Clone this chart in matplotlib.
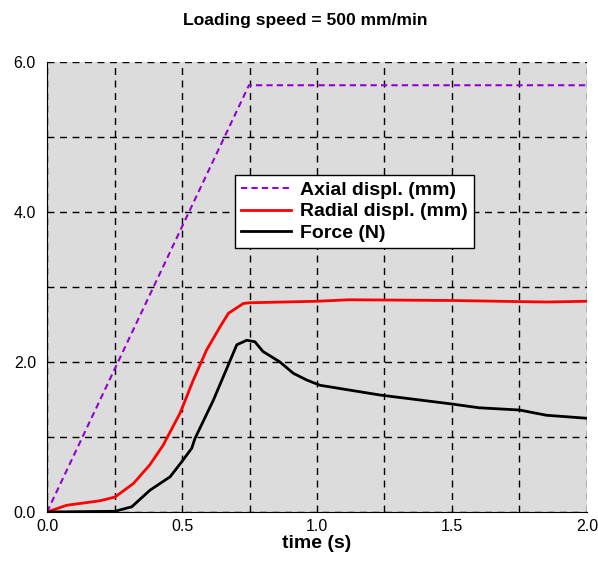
import numpy as np
import matplotlib.pyplot as plt

plt.rcParams['font.family'] = ['Liberation Sans', 'DejaVu Sans']

# axial displacement (mm)
t_axial = [0.0, 0.748, 2.0]
axial = [0.0, 5.69, 5.69]

# radial displacement (mm)
t_radial = [0.0, 0.073, 0.196, 0.252, 0.32, 0.381, 0.43, 0.493, 0.542, 0.591,
            0.641, 0.672, 0.727, 0.75, 1.0, 1.12, 1.5, 1.85, 2.0]
radial = [0.0, 0.09, 0.15, 0.20, 0.38, 0.63, 0.89, 1.32, 1.76, 2.16,
          2.47, 2.65, 2.78, 2.79, 2.81, 2.83, 2.82, 2.80, 2.81]

# force (N)
t_force = [0.0, 0.252, 0.314, 0.381, 0.456, 0.499, 0.536, 0.548, 0.616, 0.703,
           0.74, 0.77, 0.80, 0.863, 0.912, 0.962, 1.011, 1.233, 1.5, 1.6,
           1.75, 1.85, 2.0]
force = [0.0, 0.01, 0.07, 0.29, 0.47, 0.67, 0.85, 0.98, 1.49, 2.23,
         2.29, 2.27, 2.14, 2.0, 1.85, 1.76, 1.69, 1.56, 1.44, 1.39,
         1.36, 1.29, 1.25]

fig = plt.figure(figsize=(5.98, 5.61), dpi=100)
ax = fig.add_axes([0.0786, 0.0873, 0.9030, 0.8022])
ax.set_facecolor('#dcdcdc')

ax.plot(t_axial, axial, c='#9400d3', ls=(0, (3, 2)), lw=1.5, label='Axial displ. (mm)')
ax.plot(t_radial, radial, c='red', lw=2, label='Radial displ. (mm)')
ax.plot(t_force, force, c='black', lw=2, label='Force (N)')

ax.set_xlim(0, 2)
ax.set_ylim(0, 6)
ax.set_xticks([0, 0.5, 1.0, 1.5, 2.0])
ax.set_xticklabels(['0.0', '0.5', '1.0', '1.5', '2.0'])
ax.set_yticks([0, 2, 4, 6])
ax.set_yticklabels(['0.0', '2.0', '4.0', '6.0'])
ax.set_xticks(np.arange(0, 2.01, 0.25), minor=True)
ax.set_yticks(np.arange(0, 6.01, 1), minor=True)
ax.tick_params(which='both', length=0, labelsize=11.5)
ax.tick_params(axis='y', pad=8)
ax.tick_params(axis='x', pad=5)
ax.grid(which='both', color='black', ls=(0, (5, 4)), lw=1)
ax.set_axisbelow(True)

ax.spines['top'].set_visible(False)
ax.spines['right'].set_visible(False)

ax.set_xlabel('time (s)', fontsize=14, fontweight='bold', labelpad=1)
fig.suptitle('Loading speed = 500 mm/min', fontsize=12.6, fontweight='bold',
             x=0.51, y=0.977)

leg = ax.legend(loc='upper left', bbox_to_anchor=(0.348, 0.748), fancybox=False,
                framealpha=1, edgecolor='black', prop={'weight': 'bold', 'size': 14},
                borderpad=0.3, labelspacing=0.2, handlelength=2.6, handletextpad=0.45,
                borderaxespad=0)
leg.get_frame().set_linewidth(1)

fig.savefig('out.png', dpi=100)
